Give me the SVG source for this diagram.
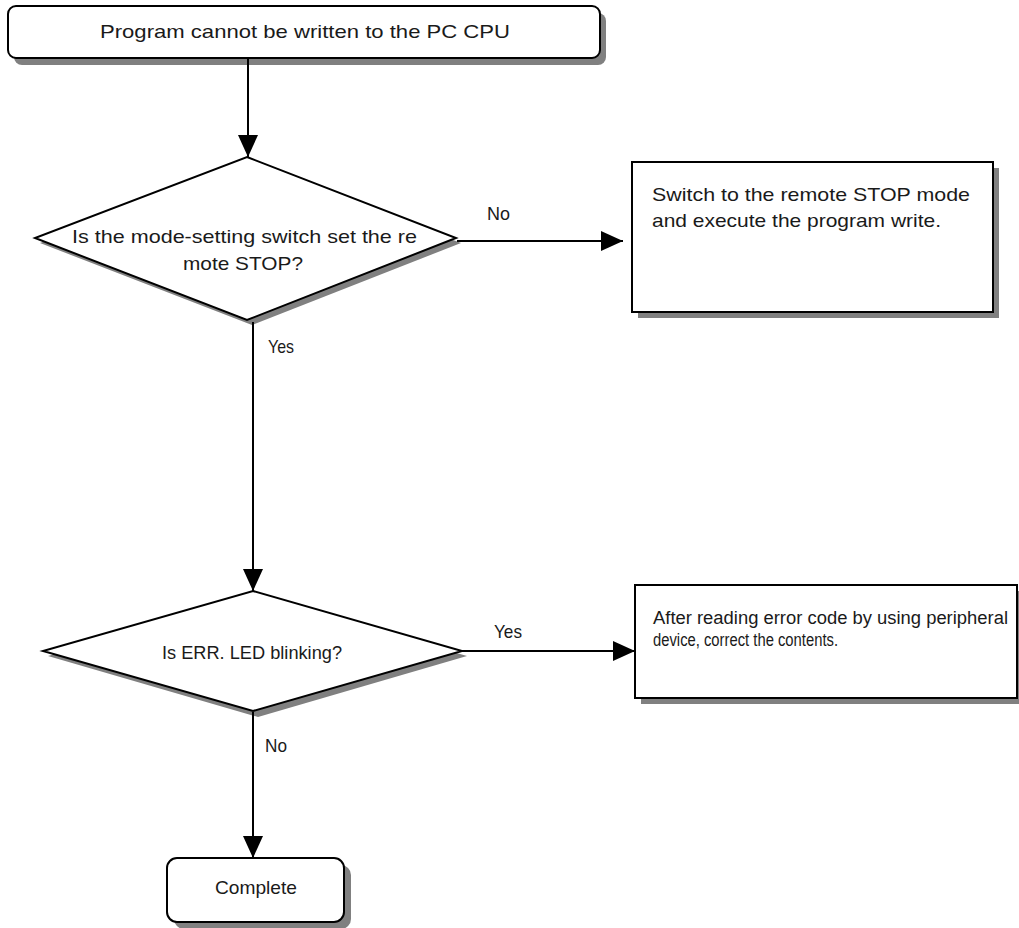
<svg xmlns="http://www.w3.org/2000/svg" width="1019" height="928" viewBox="0 0 1019 928">
<defs>
<style>
.shape{fill:#fff;stroke:#000;stroke-width:2}
.shadow{fill:#808080;stroke:none}
.t{font-family:"Liberation Sans Narrow","Liberation Sans",Arial,sans-serif;font-size:19px;fill:#1a1a1a}
.t2{font-family:"Liberation Sans Narrow","Liberation Sans",Arial,sans-serif;font-size:18px;fill:#1a1a1a}
.conn{fill:none;stroke:#000;stroke-width:2}
</style>
<marker id="arr" markerUnits="userSpaceOnUse" markerWidth="22" markerHeight="22" viewBox="0 0 22 20" refX="22" refY="10" orient="auto">
<path d="M0,0 L22,10 L0,20 Z" fill="#000"/>
</marker>
</defs>
<rect width="1019" height="928" fill="#fff"/>

<g id="start">
<rect class="shadow" x="14" y="13" width="592" height="52" rx="8"/>
<rect class="shape" x="8" y="6" width="592" height="52" rx="8"/>
<text class="t" x="100" y="38" textLength="410" lengthAdjust="spacingAndGlyphs">Program cannot be written to the PC CPU</text>
</g>

<g id="decision1">
<polygon class="shadow" points="252,162 461,243 252,325 40,243"/>
<polygon class="shape" points="247,157 456,238 247,320 35,238"/>
<text class="t" x="72" y="243" textLength="345" lengthAdjust="spacingAndGlyphs">Is the mode-setting switch set the re</text>
<text class="t" x="183" y="270" textLength="120" lengthAdjust="spacingAndGlyphs">mote STOP?</text>
</g>

<g id="action1">
<rect class="shadow" x="638" y="168" width="361" height="150"/>
<rect class="shape" x="632" y="162" width="361" height="150"/>
<text class="t" x="652" y="201" textLength="318" lengthAdjust="spacingAndGlyphs">Switch to the remote STOP mode</text>
<text class="t" x="652" y="227" textLength="289" lengthAdjust="spacingAndGlyphs">and execute the program write.</text>
</g>

<g id="decision2">
<polygon class="shadow" points="258,596 467,656 258,717 48,656"/>
<polygon class="shape" points="253,591 462,651 253,711 43,651"/>
<text class="t2" x="162" y="659" textLength="180" lengthAdjust="spacingAndGlyphs">Is ERR. LED blinking?</text>
</g>

<g id="action2">
<rect class="shadow" x="641" y="591" width="382" height="113"/>
<rect class="shape" x="635" y="585" width="382" height="113"/>
<text class="t2" x="653" y="624" textLength="355" lengthAdjust="spacingAndGlyphs">After reading error code by using peripheral</text>
<text class="t2" x="653" y="646" textLength="185" lengthAdjust="spacingAndGlyphs">device, correct the contents.</text>
</g>

<g id="end">
<rect class="shadow" x="174" y="865" width="177" height="64" rx="10"/>
<rect class="shape" x="167" y="858" width="177" height="64" rx="10"/>
<text class="t" x="215" y="894" textLength="82" lengthAdjust="spacingAndGlyphs">Complete</text>
</g>

<g id="connectors">
<line class="conn" x1="248" y1="59" x2="248" y2="157" marker-end="url(#arr)"/>
<line class="conn" x1="457" y1="241" x2="623" y2="241" marker-end="url(#arr)"/>
<line class="conn" x1="253" y1="322" x2="253" y2="591" marker-end="url(#arr)"/>
<line class="conn" x1="462" y1="651" x2="635" y2="651" marker-end="url(#arr)"/>
<line class="conn" x1="253" y1="712" x2="253" y2="858" marker-end="url(#arr)"/>
<text class="t" x="487" y="220" textLength="23" lengthAdjust="spacingAndGlyphs">No</text>
<text class="t" x="268" y="353" textLength="26" lengthAdjust="spacingAndGlyphs">Yes</text>
<text class="t" x="494" y="638" textLength="28" lengthAdjust="spacingAndGlyphs">Yes</text>
<text class="t" x="265" y="752" textLength="22" lengthAdjust="spacingAndGlyphs">No</text>
</g>
</svg>
